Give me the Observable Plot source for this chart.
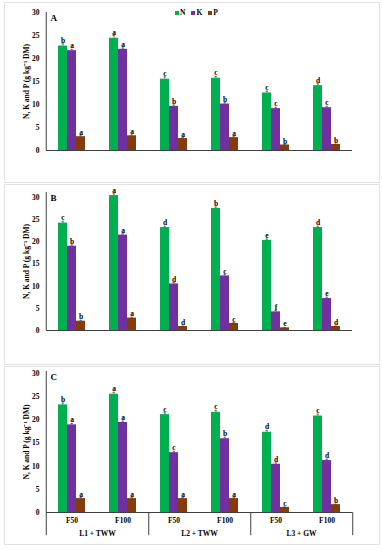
<!DOCTYPE html>
<html><head><meta charset="utf-8">
<script src="https://cdn.jsdelivr.net/npm/d3@7"></script>
<script src="https://cdn.jsdelivr.net/npm/@observablehq/plot@0.6"></script>
<style>
body{margin:0;background:#fff;width:382px;height:550px;position:relative;overflow:hidden;font-family:"Liberation Serif","Times New Roman",serif;}
.panel{position:absolute;left:4px;width:374px;border:1px solid #e2e2e2;background:#fff;}
.panel svg{display:block}
.panel svg text{fill:#000}
.legend{position:absolute;top:6px;left:170px;display:flex;gap:6px;font:bold 7.5px "Liberation Serif",serif;line-height:8px;color:#000}
.legend span{display:inline-flex;align-items:center;gap:1px}
.legend i{display:inline-block;width:4px;height:4px}
</style></head><body>
<script>
// ---- data ----
const treatments = ["F50", "F100", "F50", "F100", "F50", "F100"];
const sites = ["L1 + TWW", "L1 + TWW", "L2 + TWW", "L2 + TWW", "L3 + GW", "L3 + GW"];
const nutrients = ["N", "K", "P"];
const colors = ["#00B050", "#7030A0", "#843C0C"];
const yTicks = [0, 5, 10, 15, 20, 25, 30];
const yLabel = "N, K and P (g kg\u207B\u00B9 DM)";

// Panel A
const A_N = [22.7, 24.4, 15.5, 15.7, 12.5, 14.1];
const A_K = [21.7, 22.0, 9.6, 10.1, 9.1, 9.3];
const A_P = [3.0, 3.2, 2.6, 2.8, 1.2, 1.3];
const A_Nerr = [0.5, 0.6, 0.5, 0.4, 0.4, 0.4];
const A_Kerr = [0.3, 0.3, 0.3, 0.3, 0.3, 0.3];
const A_Perr = [0.2, 0.2, 0.2, 0.2, 0.1, 0.1];
const A_Nlet = ["b", "a", "c", "c", "c", "d"];
const A_Klet = ["a", "a", "b", "b", "c", "c"];
const A_Plet = ["a", "a", "a", "a", "b", "b"];

// Panel B
const B_N = [24.2, 30.4, 23.2, 27.5, 20.3, 23.2];
const B_K = [19.0, 21.5, 10.5, 12.3, 4.2, 7.2];
const B_P = [2.1, 2.8, 0.9, 1.6, 0.6, 0.9];
const B_Nerr = [0.4, 0.4, 0.3, 0.3, 0.3, 0.3];
const B_Kerr = [0.3, 0.3, 0.3, 0.3, 0.3, 0.3];
const B_Perr = [0.2, 0.2, 0.1, 0.2, 0.1, 0.1];
const B_Nlet = ["c", "a", "d", "b", "e", "d"];
const B_Klet = ["b", "a", "d", "c", "f", "e"];
const B_Plet = ["b", "a", "d", "c", "e", "d"];

// Panel C
const C_N = [23.2, 25.5, 21.1, 21.6, 17.3, 20.8];
const C_K = [18.9, 19.4, 12.9, 15.9, 10.4, 11.2];
const C_P = [3.0, 3.0, 3.0, 3.0, 1.1, 1.7];
const C_Nerr = [0.4, 0.4, 0.4, 0.4, 0.4, 0.4];
const C_Kerr = [0.3, 0.3, 0.3, 0.3, 0.3, 0.3];
const C_Perr = [0.2, 0.2, 0.2, 0.2, 0.1, 0.1];
const C_Nlet = ["b", "a", "c", "c", "d", "c"];
const C_Klet = ["a", "a", "c", "b", "d", "d"];
const C_Plet = ["a", "a", "a", "a", "c", "b"];

// ---- layout ----
const FONT = "'Liberation Serif','Times New Roman',serif";
const W = 374, ML = 39, MR = 26;
const AX = "#404040";
const keys = treatments.map((t, i) => `${sites[i]}|${t}`);
const fw = (W - ML - MR) / keys.length;

const panels = [
  {letter: "A", top: 2, height: 179, mt: 9, mb: 32, ymax: 30, vals: [A_N, A_K, A_P], errs: [A_Nerr, A_Kerr, A_Perr], lets: [A_Nlet, A_Klet, A_Plet], legend: true},
  {letter: "B", top: 184, height: 179, mt: 7, mb: 34, ymax: 31.1, vals: [B_N, B_K, B_P], errs: [B_Nerr, B_Kerr, B_Perr], lets: [B_Nlet, B_Klet, B_Plet]},
  {letter: "C", top: 366, height: 177, mt: 4, mb: 32, ymax: 30.4, vals: [C_N, C_K, C_P], errs: [C_Nerr, C_Kerr, C_Perr], lets: [C_Nlet, C_Klet, C_Plet], bottom: true, drop: -5}
];

for (const p of panels) {
  const rows = [];
  keys.forEach((k, i) => nutrients.forEach((n, j) => rows.push({key: k, nut: n, v: p.vals[j][i], e: p.errs[j][i], let: p.lets[j][i]})));
  const drop = p.bottom ? p.drop : 0;
  const marks = [
    Plot.barY(rows, {fx: "key", x: "nut", y: "v", fill: "nut"}),
    Plot.ruleX(rows, {fx: "key", x: "nut", y1: "v", y2: d => d.v + d.e, stroke: "#333", strokeWidth: 0.7}),
    Plot.tickY(rows, {fx: "key", x: "nut", y: d => d.v + d.e, stroke: "#333", strokeWidth: 0.7, insetLeft: 3.5, insetRight: 3.5}),
    Plot.text(rows, {fx: "key", x: "nut", y: d => d.v + d.e, text: "let", lineAnchor: "bottom", dy: -1, fill: "#000"}),
    Plot.ruleY([0], {stroke: AX, strokeWidth: 1}),
    Plot.ruleX([keys[0]], {fx: d => d, x: () => "K", dx: -fw / 2, y1: drop, y2: p.ymax, stroke: AX, strokeWidth: 1}),
    Plot.text([keys[0]], {fx: d => d, text: () => p.letter, frameAnchor: "top-left", dx: 4, dy: 2, fontSize: 9, fill: "#000"})
  ];
  if (p.bottom) {
    const firsts = keys.filter((k, i) => i % 2 === 0);
    const lasts = keys.filter((k, i) => i % 2 === 1);
    marks.push(
      Plot.text(keys, {fx: d => d, text: d => d.split("|")[1], frameAnchor: "bottom", lineAnchor: "top", dy: 5, fill: "#000"}),
      Plot.text(firsts, {fx: d => d, text: d => d.split("|")[0], frameAnchor: "bottom-right", textAnchor: "middle", lineAnchor: "top", dy: 18, fill: "#000"}),
      Plot.ruleX(lasts, {fx: d => d, x: () => "K", dx: fw / 2, y1: drop, y2: 0, stroke: AX, strokeWidth: 1})
    );
  }
  const chart = Plot.plot({
    width: W, height: p.height,
    marginLeft: ML, marginRight: MR, marginTop: p.mt, marginBottom: p.mb,
    style: {fontFamily: FONT, fontWeight: "bold", fontSize: "7.5px", color: "#000", background: "#fff", overflow: "visible"},
    fx: {domain: keys, padding: 0, axis: null},
    x: {domain: nutrients, paddingInner: 0, paddingOuter: 1.075, axis: null},
    y: {domain: [0, p.ymax], ticks: yTicks, tickSize: 0, tickPadding: 7, label: yLabel, labelAnchor: "center", labelOffset: 23, labelArrow: "none"},
    color: {domain: nutrients, range: colors},
    marks
  });
  const div = document.createElement("div");
  div.className = "panel";
  div.style.top = p.top + "px";
  div.style.height = p.height + "px";
  div.appendChild(chart);
  if (p.legend) {
    const lg = document.createElement("div");
    lg.className = "legend";
    nutrients.forEach((n, j) => {
      const s = document.createElement("span");
      const sw = document.createElement("i");
      sw.style.background = colors[j];
      s.appendChild(sw);
      s.appendChild(document.createTextNode(n));
      lg.appendChild(s);
    });
    div.appendChild(lg);
  }
  document.body.appendChild(div);
}
</script>
</body></html>
